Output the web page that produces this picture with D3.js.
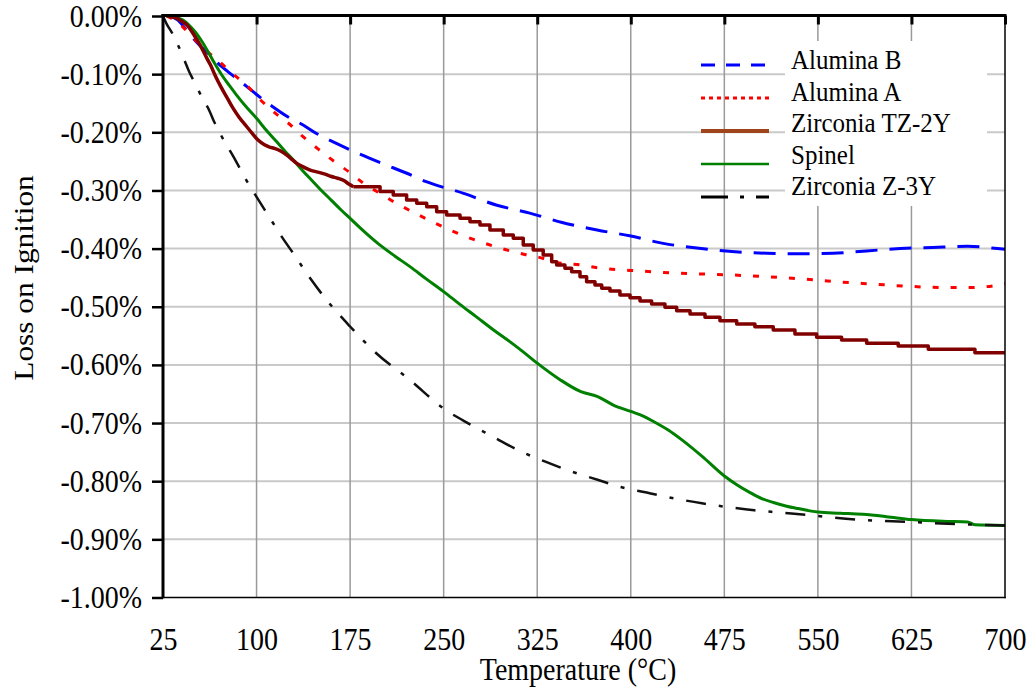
<!DOCTYPE html>
<html>
<head>
<meta charset="utf-8">
<script src="https://cdn.jsdelivr.net/npm/d3@7"></script>
<style>
  html, body { margin: 0; padding: 0; background: #fff; }
  svg { display: block; }
  text { font-family: "Liberation Serif", "Times New Roman", serif; fill: #000; }
</style>
</head>
<body>
<svg id="chart" width="1033" height="691"></svg>
<script>
// ---- axis ticks ----
const xTicks = [25, 100, 175, 250, 325, 400, 475, 550, 625, 700];
const yTicks = [0, -0.1, -0.2, -0.3, -0.4, -0.5, -0.6, -0.7, -0.8, -0.9, -1.0];

// ---- series: [temperature °C, loss on ignition %] ----
const aluminaB = [
  [30, 0], [37, -0.007], [43, -0.022], [49, -0.038], [57, -0.056], [63, -0.068],
  [69, -0.081], [79, -0.099], [92, -0.121], [100, -0.135], [113, -0.156], [124, -0.172],
  [137, -0.187], [148, -0.202], [164, -0.219], [180, -0.235], [200, -0.253], [220, -0.270],
  [236, -0.285], [266, -0.305], [292, -0.325], [319, -0.339], [345, -0.355], [373, -0.368],
  [399, -0.378], [426, -0.391], [453, -0.399], [481, -0.405], [509, -0.408], [536, -0.409],
  [562, -0.408], [589, -0.404], [616, -0.400], [642, -0.398], [670, -0.396], [694, -0.400],
  [700, -0.401]
];

const aluminaA = [
  [28, 0], [32, -0.004], [40, -0.017], [47, -0.033], [55, -0.050], [61, -0.062],
  [68, -0.074], [79, -0.096], [92, -0.119], [103, -0.144], [115, -0.167], [127, -0.187],
  [137.5, -0.208], [149.5, -0.229], [161.5, -0.249], [174, -0.268], [186, -0.288],
  [199, -0.305], [212, -0.322], [227, -0.339], [242, -0.355], [256, -0.369], [271, -0.382],
  [286, -0.393], [300, -0.402], [315, -0.410], [330, -0.417], [338, -0.423], [359, -0.428],
  [374, -0.433], [389, -0.436], [403, -0.438], [418, -0.440], [447, -0.443], [477, -0.445],
  [506, -0.448], [536, -0.452], [565, -0.457], [594, -0.461], [624, -0.465], [653, -0.467],
  [669, -0.467], [682, -0.466], [698, -0.461], [700, -0.460]
];

// Zirconia TZ-2Y: smooth rise, then a stepped record above ~177 °C
const tz2yRise = [
  [28, 0], [35, -0.003], [40, -0.009], [44, -0.015], [50, -0.033], [55, -0.051],
  [60, -0.072], [63, -0.084], [67, -0.103], [72, -0.124], [77, -0.143], [81, -0.158],
  [86, -0.174], [92, -0.190], [97, -0.203], [101, -0.213], [106, -0.221], [110, -0.225],
  [115, -0.228], [120, -0.233], [124, -0.239], [128, -0.246], [132, -0.253], [137, -0.259],
  [143, -0.265], [150, -0.269], [155, -0.272], [160, -0.276], [165, -0.279], [170, -0.283],
  [174, -0.289], [177.6, -0.2935]
];
const tz2ySteps = [
  [177.6, -0.2935], [199, -0.302], [209.6, -0.3078], [220.3, -0.3164], [228.4, -0.3221],
  [236.4, -0.3279], [244.4, -0.3365], [252.4, -0.3422], [263.1, -0.348], [271.1, -0.3537],
  [279.1, -0.3594], [287.1, -0.368], [297.8, -0.3766], [305.8, -0.3823], [313.8, -0.3938],
  [321.8, -0.4024], [329.8, -0.411], [336.6, -0.4225], [340.6, -0.4282], [347.2, -0.434],
  [352.6, -0.4397], [359.3, -0.4483], [364.6, -0.4569], [371.3, -0.4626], [376.7, -0.4683],
  [383.3, -0.4729], [391.3, -0.4798], [399.4, -0.4844], [407.4, -0.4901], [416.7, -0.4953],
  [427.4, -0.501], [436.8, -0.5067], [447.5, -0.5125], [459.5, -0.5182], [471.5, -0.524],
  [484.9, -0.5297], [499.5, -0.5343], [514.2, -0.54], [531.6, -0.5469], [549, -0.5526],
  [569, -0.5572], [589.1, -0.5629], [614.4, -0.5675], [638.5, -0.5732], [675.9, -0.579],
  [700, -0.579]
];

const spinel = [
  [28, 0], [33, -0.001], [38, -0.004], [41, -0.007], [46, -0.016], [51, -0.028],
  [56, -0.043], [61, -0.061], [66, -0.080], [72, -0.101], [78, -0.119], [84, -0.136],
  [92, -0.157], [100, -0.176], [108, -0.197], [116, -0.216], [123, -0.233], [130, -0.249],
  [137, -0.266], [144, -0.282], [152, -0.300], [160, -0.317], [168, -0.334], [175, -0.348],
  [187, -0.372], [199, -0.394], [211, -0.413], [223, -0.431], [236, -0.452], [250, -0.474],
  [263, -0.496], [276, -0.517], [290, -0.540], [303, -0.560], [314, -0.578], [325, -0.597],
  [343, -0.625], [360, -0.646], [373, -0.654], [386, -0.669], [400, -0.680], [410, -0.688],
  [418, -0.697], [430, -0.712], [441, -0.729], [457, -0.757], [475, -0.791], [485, -0.806],
  [496, -0.820], [505, -0.830], [515, -0.837], [525, -0.843], [534, -0.847], [550, -0.853],
  [568, -0.855], [586, -0.857], [605, -0.861], [625, -0.866], [650, -0.869], [670, -0.870],
  [676, -0.875], [700, -0.876]
];

const z3y = [
  [25, 0], [28, -0.014], [32, -0.028], [37, -0.050], [42, -0.075], [46, -0.096],
  [51, -0.117], [56, -0.139], [62, -0.162], [66, -0.182], [71, -0.203], [76, -0.222],
  [81, -0.240], [92, -0.283], [100, -0.311], [110, -0.345], [120, -0.379], [130, -0.410],
  [143, -0.451], [156, -0.488], [175, -0.534], [196, -0.580], [223, -0.626], [250, -0.675],
  [270, -0.701], [290, -0.724], [310, -0.747], [331, -0.766], [352, -0.783], [374, -0.798],
  [392, -0.810], [416, -0.821], [436, -0.830], [457, -0.838], [476, -0.844], [499, -0.850],
  [520, -0.854], [541, -0.858], [582, -0.866], [623, -0.870], [665, -0.874], [700, -0.876]
];

const legendLabels = ["Alumina B", "Alumina A", "Zirconia TZ-2Y", "Spinel", "Zirconia Z-3Y"];

// ---- layout ----
const FONT = '"Liberation Serif", "Times New Roman", serif';
const plot = { left: 163, right: 1005, top: 16, bottom: 597.5 };
const TEXT_STRETCH = 1.12;

const x = d3.scaleLinear().domain([25, 700]).range([plot.left, plot.right]);
const y = d3.scaleLinear().domain([0, -1]).range([plot.top, plot.bottom]);

const svg = d3.select("#chart");

const pct = d => (d < 0 ? "-" : "") + Math.abs(d).toFixed(2) + "%";

// ---- gridlines ----
svg.append("g")
  .selectAll("line")
  .data(yTicks.slice(1, -1))
  .join("line")
  .attr("x1", plot.left).attr("x2", plot.right)
  .attr("y1", d => y(d)).attr("y2", d => y(d))
  .attr("stroke", "#c9c9c9").attr("stroke-width", 2);

svg.append("g")
  .selectAll("line")
  .data(xTicks.slice(1, -1))
  .join("line")
  .attr("x1", d => x(d)).attr("x2", d => x(d))
  .attr("y1", plot.top).attr("y2", plot.bottom)
  .attr("stroke", "#9a9a9a").attr("stroke-width", 1.5);

// ---- series lines ----
const line = d3.line().x(d => x(d[0])).y(d => y(d[1])).curve(d3.curveMonotoneX);
const stepLine = d3.line().x(d => x(d[0])).y(d => y(d[1])).curve(d3.curveStepAfter);

const series = [
  { data: aluminaB, gen: line, color: "#0000ff", width: 3, dash: "22,12" },
  { data: aluminaA, gen: line, color: "#ff0000", width: 3, dash: "6,12" },
  { data: spinel, gen: line, color: "#008000", width: 3, dash: null },
  { data: z3y, gen: line, color: "#111111", width: 2.5, dash: "20,13,4,13" },
  { data: tz2yRise, gen: line, color: "#800000", width: 3.5, dash: null },
  { data: tz2ySteps, gen: stepLine, color: "#800000", width: 3.5, dash: null }
];

svg.append("g")
  .selectAll("path")
  .data(series)
  .join("path")
  .attr("d", s => s.gen(s.data))
  .attr("fill", "none")
  .attr("stroke", s => s.color)
  .attr("stroke-width", s => s.width)
  .attr("stroke-dasharray", s => s.dash)
  .attr("stroke-linejoin", "round");

// ---- frame and ticks ----
const leftAxis = d3.axisLeft(y)
  .tickValues(yTicks)
  .tickSize(11)
  .tickSizeOuter(0)
  .tickPadding(10)
  .tickFormat(pct);

svg.append("g")
  .attr("transform", `translate(${plot.left},0)`)
  .call(leftAxis)
  .attr("font-family", FONT)
  .attr("font-size", 28)
  .call(g => g.select(".domain").remove())
  .call(g => g.selectAll(".tick line").attr("stroke", "#000").attr("stroke-width", 2.5))
  .call(g => g.selectAll(".tick text")
    .attr("transform", `scale(1,${TEXT_STRETCH})`));

const bottomAxis = d3.axisBottom(x)
  .tickValues(xTicks)
  .tickSize(0)
  .tickSizeOuter(0)
  .tickPadding(27)
  .tickFormat(d3.format("d"));

svg.append("g")
  .attr("transform", `translate(0,${plot.bottom})`)
  .call(bottomAxis)
  .attr("font-family", FONT)
  .attr("font-size", 28)
  .call(g => g.select(".domain").remove())
  .call(g => g.selectAll(".tick text")
    .attr("transform", `scale(1,${TEXT_STRETCH})`));

const topAxis = d3.axisTop(x)
  .tickValues(xTicks.slice(1))
  .tickSize(-9)
  .tickSizeOuter(0)
  .tickFormat("");

svg.append("g")
  .attr("transform", `translate(0,${plot.top - 0.5})`)
  .call(topAxis)
  .call(g => g.select(".domain").remove())
  .call(g => g.selectAll(".tick line").attr("stroke", "#000").attr("stroke-width", 3));

const frame = svg.append("g").attr("stroke", "#000").attr("fill", "none");
frame.append("line")
  .attr("x1", plot.left).attr("x2", plot.right + 0.75)
  .attr("y1", plot.bottom).attr("y2", plot.bottom)
  .attr("stroke-width", 1.5);
frame.append("line")
  .attr("x1", plot.right).attr("x2", plot.right)
  .attr("y1", plot.top).attr("y2", plot.bottom + 0.75)
  .attr("stroke-width", 1.5);
frame.append("line")
  .attr("x1", plot.left).attr("x2", plot.left)
  .attr("y1", plot.top - 2).attr("y2", plot.bottom + 0.75)
  .attr("stroke-width", 3);
frame.append("line")
  .attr("x1", plot.left - 1.5).attr("x2", plot.right + 1.5)
  .attr("y1", plot.top - 0.5).attr("y2", plot.top - 0.5)
  .attr("stroke-width", 3);

// ---- axis titles ----
svg.append("text")
  .attr("transform", `translate(578,680) scale(1,${TEXT_STRETCH})`)
  .attr("text-anchor", "middle")
  .attr("font-size", 28)
  .text("Temperature (°C)");

svg.append("text")
  .attr("transform", `translate(33,278) rotate(-90) scale(${TEXT_STRETCH},1)`)
  .attr("text-anchor", "middle")
  .attr("font-size", 28)
  .text("Loss on Ignition");

// ---- legend ----
const legendKeys = [
  { color: "#0000ff", width: 3, dash: "14,11" },
  { color: "#ff0000", width: 3, dash: "4,4" },
  { color: "#a0441c", width: 4, dash: null },
  { color: "#008000", width: 2.5, dash: null },
  { color: "#000000", width: 3, dash: "27,12,4,12" }
];

const legend = svg.append("g");
legend.append("rect")
  .attr("x", 785).attr("y", 41)
  .attr("width", 202).attr("height", 165)
  .attr("fill", "#fff");

const rows = legend.selectAll("g.row")
  .data(legendLabels.map((label, i) => ({ label, key: legendKeys[i], i })))
  .join("g")
  .attr("class", "row");

rows.append("line")
  .attr("x1", 701).attr("x2", 769)
  .attr("y1", d => 65 + 33 * d.i).attr("y2", d => 65 + 33 * d.i)
  .attr("stroke", d => d.key.color)
  .attr("stroke-width", d => d.key.width)
  .attr("stroke-dasharray", d => d.key.dash);

rows.append("text")
  .attr("transform", d => `translate(791,${69 + 31.5 * d.i}) scale(1,1.1)`)
  .attr("font-size", 25)
  .text(d => d.label);
</script>
</body>
</html>
